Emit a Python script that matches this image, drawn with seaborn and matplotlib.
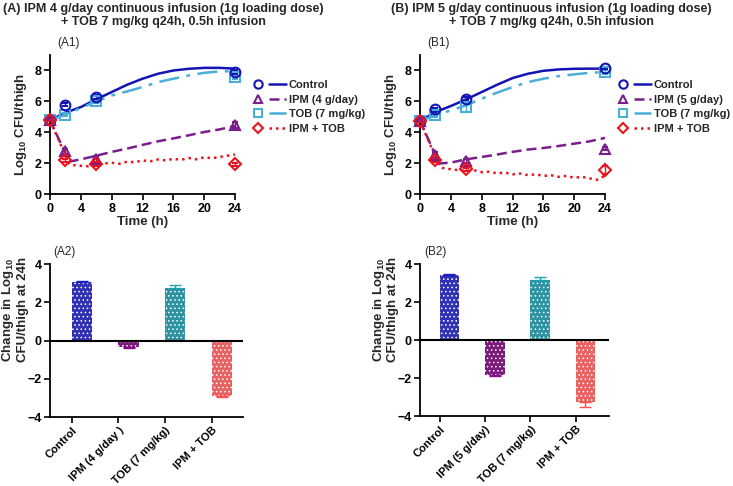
import numpy as np
import pandas as pd
import seaborn as sns
import matplotlib.pyplot as plt
from matplotlib.lines import Line2D
from matplotlib.legend_handler import HandlerTuple

sns.set_theme(style="ticks")
plt.rcParams["font.family"] = ["Liberation Sans", "DejaVu Sans"]
plt.rcParams["mathtext.default"] = "regular"
plt.rcParams["hatch.linewidth"] = 0.6

# ---- time-kill data ----
obs_t = [0, 2, 6, 24]
model_t = [0, 2, 4, 6, 8, 10, 12, 14, 16, 18, 20, 22, 24]
ipm_t = [0, 2.5, 4, 6, 8, 10, 12, 14, 16, 18, 20, 22, 24]
combo_t = [0, 2.5, 3, 4, 5, 6, 7, 8, 9, 10, 11, 12, 13, 14, 15, 16, 17, 18, 19, 20, 21, 22, 23, 24]

# panel A (IPM 4 g/day)
a_ctrl_obs = [4.79, 5.79, 6.29, 7.90]
a_ctrl_sd = [0.08, 0.10, 0.12, 0.12]
a_ipm_obs = [4.79, 2.79, 2.30, 4.46]
a_ipm_sd = [0.08, 0.15, 0.20, 0.20]
a_tob_obs = [4.79, 5.15, 6.00, 7.57]
a_tob_sd = [0.08, 0.10, 0.10, 0.12]
a_combo_obs = [4.79, 2.20, 1.97, 1.95]
a_combo_sd = [0.08, 0.10, 0.12, 0.10]

a_ctrl_fit = [4.79, 5.28, 5.64, 6.14, 6.61, 7.08, 7.47, 7.79, 8.00, 8.11, 8.17, 8.17, 8.12]
a_tob_fit = [4.79, 5.15, 5.58, 6.00, 6.39, 6.65, 6.93, 7.25, 7.47, 7.68, 7.85, 7.94, 7.96]
a_ipm_fit = [4.79, 2.12, 2.27, 2.50, 2.75, 2.96, 3.20, 3.43, 3.62, 3.82, 4.03, 4.20, 4.42]
a_combo_fit = [4.79, 1.95, 1.90, 1.85, 1.82, 1.88, 2.00, 2.05, 1.98, 2.12, 2.08, 2.20,
               2.14, 2.26, 2.20, 2.30, 2.24, 2.35, 2.27, 2.40, 2.34, 2.42, 2.50, 2.58]

# panel B (IPM 5 g/day)
b_ctrl_obs = [4.74, 5.49, 6.18, 8.15]
b_ctrl_sd = [0.08, 0.10, 0.10, 0.08]
b_ipm_obs = [4.74, 2.53, 2.15, 2.96]
b_ipm_sd = [0.08, 0.20, 0.12, 0.12]
b_tob_obs = [4.74, 5.11, 5.64, 7.90]
b_tob_sd = [0.08, 0.10, 0.30, 0.10]
b_combo_obs = [4.74, 2.21, 1.63, 1.57]
b_combo_sd = [0.08, 0.10, 0.10, 0.25]

b_ctrl_fit = [4.74, 5.32, 5.71, 6.14, 6.61, 7.08, 7.51, 7.79, 7.98, 8.07, 8.11, 8.12, 8.12]
b_tob_fit = [4.74, 5.11, 5.43, 5.75, 6.18, 6.57, 6.93, 7.25, 7.47, 7.64, 7.75, 7.85, 7.90]
b_ipm_fit = [4.74, 2.00, 2.06, 2.27, 2.42, 2.58, 2.75, 2.90, 3.00, 3.13, 3.28, 3.43, 3.65]
b_combo_fit = [4.74, 1.85, 1.70, 1.63, 1.57, 1.52, 1.57, 1.44, 1.47, 1.36, 1.42, 1.30,
               1.35, 1.25, 1.30, 1.20, 1.24, 1.14, 1.20, 1.08, 1.14, 1.04, 0.95, 1.22]

# ---- change at 24 h ----
a_bar_labels = ["Control", "IPM (4 g/day )", "TOB (7 mg/kg)", "IPM + TOB"]
a_bar_vals = [3.05, -0.35, 2.75, -2.92]
a_bar_err = [0.05, 0.02, 0.17, 0.03]
b_bar_labels = ["Control", "IPM (5 g/day)", "TOB (7 mg/kg)", "IPM + TOB"]
b_bar_vals = [3.42, -1.85, 3.17, -3.28]
b_bar_err = [0.04, 0.03, 0.16, 0.22]

line_colors = ["#1414b4", "#7a1e8c", "#4aaed8", "#e8141e"]
bar_colors = ["#1c1cc8", "#8a0a8a", "#1aa0b4", "#ff4c4c"]
markers = ["o", "^", "s", "D"]
msizes = [7, 7, 7, 6]
styles = ["-", (0, (4, 2)), (0, (8, 3, 1.5, 3)), (0, (1, 1.6))]

W, H = 733, 486
fig = plt.figure(figsize=(W / 100, H / 100), dpi=100)


def rect(x0, y_top, x1, y_bot):
    return [x0 / W, 1 - y_bot / H, (x1 - x0) / W, (y_bot - y_top) / H]


def time_panel(ax, fits, obs, sds, ipm_label, leg_xy):
    times = [model_t, ipm_t, model_t, combo_t]
    for i in range(4):
        df = pd.DataFrame({"t": times[i], "v": fits[i]})
        sns.lineplot(data=df, x="t", y="v", ax=ax, color=line_colors[i],
                     linestyle=styles[i], linewidth=1.8, zorder=2)
    for i in [2, 0, 1, 3]:
        ax.errorbar(obs_t, obs[i], yerr=sds[i], fmt=markers[i], ms=msizes[i],
                    mfc="none", mec=line_colors[i], mew=1.5, ecolor=line_colors[i],
                    elinewidth=1, capsize=2, clip_on=False, zorder=3)
    ax.set_xlim(0, 24)
    ax.set_ylim(0, 9)
    ax.set_xticks(range(0, 25, 4))
    ax.set_yticks(range(0, 9, 2))
    ax.set_xlabel("Time (h)", fontsize=9.5, fontweight="bold", labelpad=1)
    ax.set_ylabel("Log$_{10}$ CFU/thigh", fontsize=9.5, fontweight="bold", labelpad=4)
    names = ["Control", ipm_label, "TOB (7 mg/kg)", "IPM + TOB"]
    handles = []
    for i in range(4):
        mk = Line2D([], [], marker=markers[i], ms=msizes[i] - 1, mfc="none",
                    mec=line_colors[i], mew=1.5, linestyle="none")
        ln = Line2D([], [], color=line_colors[i], linestyle=styles[i], linewidth=1.8)
        handles.append((mk, ln))
    ax.legend(handles, names, handler_map={tuple: HandlerTuple(ndivide=None, pad=0.2)},
              loc="upper left", bbox_to_anchor=leg_xy, bbox_transform=fig.transFigure,
              frameon=False, borderaxespad=0, borderpad=0, handlelength=3.2,
              handletextpad=0.3, labelspacing=0.42,
              prop={"size": 8, "weight": "bold"})


def bar_panel(ax, labels, vals, errs, xlim):
    sns.barplot(x=labels, y=vals, hue=labels, palette=bar_colors, width=0.43,
                legend=False, ax=ax, zorder=2)
    for p in ax.patches:
        p.set_hatch("....")
        p.set_edgecolor("white")
        p.set_linewidth(0)
    for i, (v, e) in enumerate(zip(vals, errs)):
        yerr = [[0], [e]] if v > 0 else [[e], [0]]
        ax.errorbar(i, v, yerr=yerr, fmt="none", ecolor=bar_colors[i],
                    elinewidth=1, capsize=4, capthick=1, zorder=3)
    ax.axhline(0, color="black", linewidth=1.5, zorder=4)
    ax.set_ylim(-4, 4)
    ax.set_yticks([-4, -2, 0, 2, 4])
    ax.set_xlim(*xlim)
    ax.set_xticks(np.arange(4) - 0.215)
    ax.set_xticklabels(labels, rotation=45, ha="right", rotation_mode="anchor")
    ax.set_ylabel("Change in Log$_{10}$\nCFU/thigh at 24h", fontsize=9.5,
                  fontweight="bold", linespacing=1.05)
    ax.yaxis.set_label_coords(-0.11, 0.7)


def style_axes(ax, tick_size=9):
    sns.despine(ax=ax)
    for s in ["left", "bottom"]:
        ax.spines[s].set_linewidth(1.3)
        ax.spines[s].set_color("black")
    ax.tick_params(direction="out", length=4, width=1.2, colors="black",
                   labelsize=9, pad=2)
    ax.tick_params(axis="x", labelsize=tick_size)
    for lab in ax.get_xticklabels() + ax.get_yticklabels():
        lab.set_fontweight("bold")


ax_a1 = fig.add_axes(rect(50, 55, 235, 194.5))
ax_b1 = fig.add_axes(rect(420, 55, 605, 194.5))
ax_a2 = fig.add_axes(rect(50, 264, 243, 417))
ax_b2 = fig.add_axes(rect(420, 264, 609, 416))

time_panel(ax_a1, [a_ctrl_fit, a_ipm_fit, a_tob_fit, a_combo_fit],
           [a_ctrl_obs, a_ipm_obs, a_tob_obs, a_combo_obs],
           [a_ctrl_sd, a_ipm_sd, a_tob_sd, a_combo_sd],
           "IPM (4 g/day)", (250 / W, 1 - 80 / H))
time_panel(ax_b1, [b_ctrl_fit, b_ipm_fit, b_tob_fit, b_combo_fit],
           [b_ctrl_obs, b_ipm_obs, b_tob_obs, b_combo_obs],
           [b_ctrl_sd, b_ipm_sd, b_tob_sd, b_combo_sd],
           "IPM (5 g/day)", (615 / W, 1 - 80 / H))
bar_panel(ax_a2, a_bar_labels, a_bar_vals, a_bar_err, (-0.68, 3.45))
bar_panel(ax_b2, b_bar_labels, b_bar_vals, b_bar_err, (-0.65, 3.52))

for ax in [ax_a1, ax_b1]:
    style_axes(ax)
for ax in [ax_a2, ax_b2]:
    style_axes(ax, tick_size=8)

title_kw = dict(ha="center", va="top", fontsize=9, fontweight="bold",
                multialignment="center", linespacing=1.15)
fig.text(163 / W, 1 - 3 / H,
         "(A) IPM 4 g/day continuous infusion (1g loading dose)\n+ TOB 7 mg/kg q24h, 0.5h infusion",
         **title_kw)
fig.text(551 / W, 1 - 3 / H,
         "(B) IPM 5 g/day continuous infusion (1g loading dose)\n+ TOB 7 mg/kg q24h, 0.5h infusion",
         **title_kw)
for x, y, s in [(57, 37, "(A1)"), (427, 37, "(B1)"), (53, 246, "(A2)"), (424, 246, "(B2)")]:
    fig.text(x / W, 1 - y / H, s, ha="left", va="top", fontsize=8.5)

fig.savefig("out.png", dpi=100)
